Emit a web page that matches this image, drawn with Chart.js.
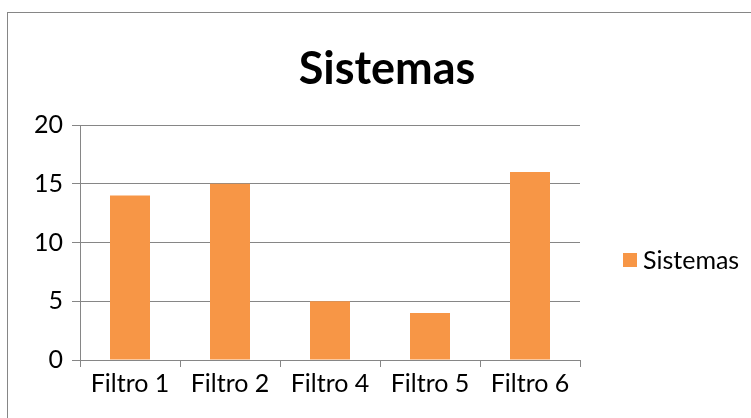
<!DOCTYPE html>
<html>
<head>
<meta charset="utf-8">
<script src="https://cdn.jsdelivr.net/npm/chart.js@4"></script>
<style>
  html, body { margin: 0; padding: 0; background: #fff; }
  #wrap { position: relative; width: 751px; height: 418px; overflow: hidden; }
  #frame { position: absolute; left: 7px; top: 12px; width: 800px; height: 500px; border: 1px solid #868686; box-sizing: border-box; }
  canvas { position: absolute; left: 0; top: 0; }
</style>
</head>
<body>
<div id="wrap">
  <div id="frame"></div>
  <canvas id="chart" width="751" height="418"></canvas>
</div>
<script>
const categories = ["Filtro 1", "Filtro 2", "Filtro 4", "Filtro 5", "Filtro 6"];
const sistemas = [14, 15, 5, 4, 16];
const yTicks = [0, 5, 10, 15, 20];

const FONT = "Lato, 'Open Sans', sans-serif";
const BAR_COLOR = "#F79646";
const GRID_COLOR = "#868686";

// title is centred on the whole frame, not on the plot
const frameTitle = {
  id: "frameTitle",
  afterLayout(chart) {
    const t = chart.titleBlock;
    if (!t) return;
    t.left = 0;
    t.right = 774;
    t.width = 774;
  }
};

// legend drawn by hand to sit where the original one is
const sideLegend = {
  id: "sideLegend",
  afterDraw(chart) {
    const ctx = chart.ctx;
    const ds = chart.data.datasets[0];
    ctx.save();
    ctx.fillStyle = ds.backgroundColor;
    ctx.fillRect(623, 253, 14, 14);
    ctx.fillStyle = "#000";
    ctx.font = "25px " + FONT;
    ctx.textBaseline = "middle";
    ctx.textAlign = "left";
    ctx.fillText(ds.label, 643, 261);
    ctx.restore();
  }
};

new Chart(document.getElementById("chart"), {
  type: "bar",
  data: {
    labels: categories,
    datasets: [
      {
        label: "Sistemas",
        data: sistemas,
        backgroundColor: BAR_COLOR,
        barPercentage: 0.8,
        categoryPercentage: 0.5
      }
    ]
  },
  options: {
    responsive: false,
    animation: false,
    layout: {
      padding: { left: 0, right: 171, top: 42, bottom: 17 }
    },
    plugins: {
      legend: { display: false },
      tooltip: { enabled: false },
      title: {
        display: true,
        text: "Sistemas",
        color: "#000",
        font: { family: FONT, size: 45, weight: "bold", lineHeight: 1.2 },
        padding: { top: 0, bottom: 29 }
      }
    },
    scales: {
      x: {
        grid: {
          drawOnChartArea: false,
          drawTicks: true,
          tickLength: 7,
          color: GRID_COLOR
        },
        border: { color: GRID_COLOR, width: 1 },
        ticks: {
          color: "#000",
          padding: 2,
          font: { family: FONT, size: 25 }
        }
      },
      y: {
        min: 0,
        max: 20,
        afterBuildTicks(scale) {
          scale.ticks = yTicks.map(v => ({ value: v }));
        },
        afterFit(scale) {
          scale.width = 80;
        },
        grid: {
          color: GRID_COLOR,
          tickLength: 8
        },
        border: { color: GRID_COLOR, width: 1 },
        ticks: {
          color: "#000",
          padding: 9,
          font: { family: FONT, size: 25 }
        }
      }
    }
  },
  plugins: [frameTitle, sideLegend]
});
</script>
</body>
</html>
